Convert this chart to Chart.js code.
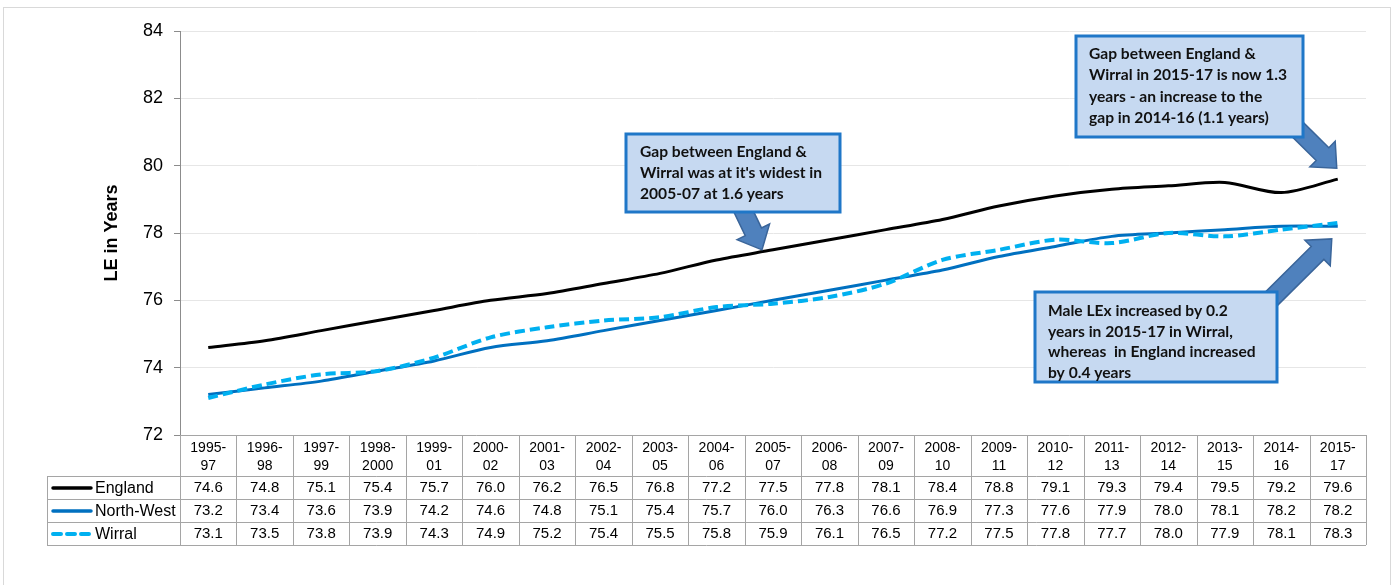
<!DOCTYPE html>
<html>
<head>
<meta charset="utf-8">
<title>Male life expectancy: England, North-West and Wirral</title>
<script src="https://cdn.jsdelivr.net/npm/chart.js@4/dist/chart.umd.min.js"></script>
<style>
  html, body { margin: 0; padding: 0; background: #ffffff; }
  #wrap { position: relative; width: 1394px; height: 585px; }
</style>
</head>
<body>
<div id="wrap"><canvas id="c" width="1394" height="585"></canvas></div>
<script>
// Three-year pooled periods (two-line labels used in the table header)
const periods = [
  ['1995-', '97'], ['1996-', '98'], ['1997-', '99'], ['1998-', '2000'], ['1999-', '01'],
  ['2000-', '02'], ['2001-', '03'], ['2002-', '04'], ['2003-', '05'], ['2004-', '06'],
  ['2005-', '07'], ['2006-', '08'], ['2007-', '09'], ['2008-', '10'], ['2009-', '11'],
  ['2010-', '12'], ['2011-', '13'], ['2012-', '14'], ['2013-', '15'], ['2014-', '16'],
  ['2015-', '17']
];

// Male life expectancy at birth, years
const england   = [74.6, 74.8, 75.1, 75.4, 75.7, 76.0, 76.2, 76.5, 76.8, 77.2, 77.5, 77.8, 78.1, 78.4, 78.8, 79.1, 79.3, 79.4, 79.5, 79.2, 79.6];
const northWest = [73.2, 73.4, 73.6, 73.9, 74.2, 74.6, 74.8, 75.1, 75.4, 75.7, 76.0, 76.3, 76.6, 76.9, 77.3, 77.6, 77.9, 78.0, 78.1, 78.2, 78.2];
const wirral    = [73.1, 73.5, 73.8, 73.9, 74.3, 74.9, 75.2, 75.4, 75.5, 75.8, 75.9, 76.1, 76.5, 77.2, 77.5, 77.8, 77.7, 78.0, 77.9, 78.1, 78.3];

// Value axis
const yMin = 72, yMax = 84, yStep = 2;

const seriesNames  = ['England', 'North-West', 'Wirral'];
const seriesColors = ['#000000', '#0070C0', '#00B0F0'];

// Text boxes with block arrows; arrow tips are anchored to a data point plus a pixel nudge
const callouts = [
  {
    box: [626, 134, 840, 212], textX: 640, firstY: 152, lineGap: 21,
    lines: ['Gap between England &', "Wirral was at it's widest in", '2005-07 at 1.6 years'],
    arrowFrom: [740, 204], tip: { series: england, index: 10, dx: -11, dy: 0 }
  },
  {
    box: [1076, 36, 1303, 137], textX: 1089, firstY: 54, lineGap: 21.3,
    lines: ['Gap between England &', 'Wirral in 2015-17 is now 1.3', 'years - an increase to the', 'gap in 2014-16 (1.1 years)'],
    arrowFrom: [1284, 116], tip: { series: england, index: 20, dx: -1, dy: -11 }
  },
  {
    box: [1035, 292, 1277, 382], textX: 1048, firstY: 311, lineGap: 20.5,
    lines: ['Male LEx increased by 0.2', 'years in 2015-17 in Wirral,', 'whereas  in England increased', 'by 0.4 years'],
    arrowFrom: [1250, 320], tip: { series: wirral, index: 20, dx: -6, dy: 16 }
  }
];

const TABLE_LEFT = 47, HEAD_H = 41, ROW_H = 23;

const framePlugin = {
  id: 'frame',
  beforeDraw(chart) {
    const ctx = chart.ctx;
    ctx.save();
    ctx.fillStyle = '#ffffff';
    ctx.fillRect(0, 0, chart.width, chart.height);
    ctx.strokeStyle = '#d9d9d9';
    ctx.lineWidth = 1;
    ctx.strokeRect(3.5, 7.5, chart.width - 7, chart.height);
    ctx.restore();
  }
};

const tablePlugin = {
  id: 'dataTable',
  afterDraw(chart) {
    const ctx = chart.ctx, ca = chart.chartArea, xs = chart.scales.x;
    const n = periods.length;
    const colW = (ca.right - ca.left) / n;
    const top = Math.round(ca.bottom);
    const rowsTop = top + HEAD_H;
    const bottom = rowsTop + ROW_H * 3;
    const px = v => Math.round(v) + 0.5;

    ctx.save();
    ctx.strokeStyle = '#a5a5a5';
    ctx.lineWidth = 1;
    ctx.beginPath();
    // header top
    ctx.moveTo(ca.left, px(top)); ctx.lineTo(ca.right, px(top));
    // row separators
    for (let r = 0; r <= 3; r++) {
      const y = px(rowsTop + r * ROW_H);
      ctx.moveTo(TABLE_LEFT, y); ctx.lineTo(ca.right, y);
    }
    // column separators
    for (let i = 0; i <= n; i++) {
      const x = px(ca.left + i * colW);
      ctx.moveTo(x, top); ctx.lineTo(x, bottom);
    }
    ctx.moveTo(px(TABLE_LEFT), rowsTop); ctx.lineTo(px(TABLE_LEFT), bottom);
    ctx.stroke();

    ctx.fillStyle = '#000000';
    ctx.textAlign = 'center';
    ctx.textBaseline = 'middle';
    // header labels
    ctx.font = '14px "Liberation Sans", Arial, sans-serif';
    periods.forEach((p, i) => {
      const cx = xs.getPixelForValue(i);
      ctx.fillText(p[0], cx, top + 13);
      ctx.fillText(p[1], cx, top + 31);
    });
    // values
    ctx.font = '15px "Liberation Sans", Arial, sans-serif';
    const all = [england, northWest, wirral];
    all.forEach((arr, r) => {
      const cy = rowsTop + r * ROW_H + ROW_H / 2 + 0.5;
      arr.forEach((v, i) => ctx.fillText(v.toFixed(1), xs.getPixelForValue(i), cy));
    });
    // legend keys
    ctx.textAlign = 'left';
    ctx.font = '16px "Liberation Sans", Arial, sans-serif';
    all.forEach((arr, r) => {
      const cy = rowsTop + r * ROW_H + ROW_H / 2 + 0.5;
      ctx.save();
      ctx.strokeStyle = seriesColors[r];
      ctx.lineWidth = r === 2 ? 4 : 3.5;
      ctx.lineCap = 'round';
      if (r === 2) ctx.setLineDash([8, 6]);
      ctx.beginPath();
      ctx.moveTo(53, cy); ctx.lineTo(91, cy);
      ctx.stroke();
      ctx.restore();
      ctx.fillText(seriesNames[r], 95, cy + 0.5);
    });
    ctx.restore();
  }
};

function blockArrow(ctx, x0, y0, x1, y1, shaftW, headW, headL) {
  const ang = Math.atan2(y1 - y0, x1 - x0);
  const len = Math.hypot(x1 - x0, y1 - y0);
  ctx.save();
  ctx.translate(x0, y0);
  ctx.rotate(ang);
  ctx.beginPath();
  ctx.moveTo(0, -shaftW / 2);
  ctx.lineTo(len - headL, -shaftW / 2);
  ctx.lineTo(len - headL, -headW / 2);
  ctx.lineTo(len, 0);
  ctx.lineTo(len - headL, headW / 2);
  ctx.lineTo(len - headL, shaftW / 2);
  ctx.lineTo(0, shaftW / 2);
  ctx.closePath();
  ctx.fillStyle = '#4F81BD';
  ctx.fill();
  ctx.strokeStyle = '#3A659A';
  ctx.lineWidth = 1.5;
  ctx.stroke();
  ctx.restore();
}

const calloutPlugin = {
  id: 'callouts',
  afterDatasetsDraw(chart) {
    const ctx = chart.ctx, xs = chart.scales.x, ys = chart.scales.y;
    ctx.save();
    callouts.forEach(c => {
      const t = c.tip;
      const tx = xs.getPixelForValue(t.index) + t.dx;
      const ty = ys.getPixelForValue(t.series[t.index]) + t.dy;
      blockArrow(ctx, c.arrowFrom[0], c.arrowFrom[1], tx, ty, 18, 36, 20);
    });
    callouts.forEach(c => {
      const [x0, y0, x1, y1] = c.box;
      ctx.fillStyle = '#C6D9F1';
      ctx.fillRect(x0, y0, x1 - x0, y1 - y0);
      ctx.strokeStyle = '#1F77C8';
      ctx.lineWidth = 3;
      ctx.strokeRect(x0, y0, x1 - x0, y1 - y0);
      ctx.fillStyle = '#111111';
      ctx.font = 'bold 15.6px Lato, "Open Sans", sans-serif';
      ctx.textAlign = 'left';
      ctx.textBaseline = 'middle';
      c.lines.forEach((line, i) => ctx.fillText(line, c.textX, c.firstY + i * c.lineGap));
    });
    ctx.restore();
  }
};

const labels = periods.map(p => p.join(''));

new Chart(document.getElementById('c'), {
  type: 'line',
  data: {
    labels,
    datasets: [
      { label: seriesNames[0], data: england, borderColor: seriesColors[0], borderWidth: 3, order: 2 },
      { label: seriesNames[1], data: northWest, borderColor: seriesColors[1], borderWidth: 3, order: 1 },
      { label: seriesNames[2], data: wirral, borderColor: seriesColors[2], borderWidth: 4, borderDash: [10, 5], order: 0 }
    ]
  },
  options: {
    responsive: false,
    animation: false,
    devicePixelRatio: 1,
    layout: { padding: { left: 0, right: 28, top: 31, bottom: 150 } },
    elements: {
      point: { radius: 0, hoverRadius: 0 },
      line: { tension: 0.3, fill: false, borderCapStyle: 'butt' }
    },
    plugins: {
      legend: { display: false },
      tooltip: { enabled: false }
    },
    scales: {
      x: { type: 'category', offset: true, display: false },
      y: {
        min: yMin, max: yMax,
        afterFit(scale) { scale.width = 180; },
        ticks: {
          stepSize: yStep,
          color: '#000000',
          padding: 11,
          font: { family: '"Liberation Sans", Arial, sans-serif', size: 18 }
        },
        grid: { color: '#e6e6e6', tickColor: '#8c8c8c', tickLength: 6, lineWidth: 1 },
        border: { color: '#8c8c8c', width: 1 },
        title: {
          display: true,
          text: 'LE in Years',
          color: '#000000',
          font: { family: '"Liberation Sans", Arial, sans-serif', size: 18, weight: 'bold' },
          padding: { top: 101, bottom: 0 }
        }
      }
    }
  },
  plugins: [framePlugin, tablePlugin, calloutPlugin]
});
</script>
</body>
</html>
